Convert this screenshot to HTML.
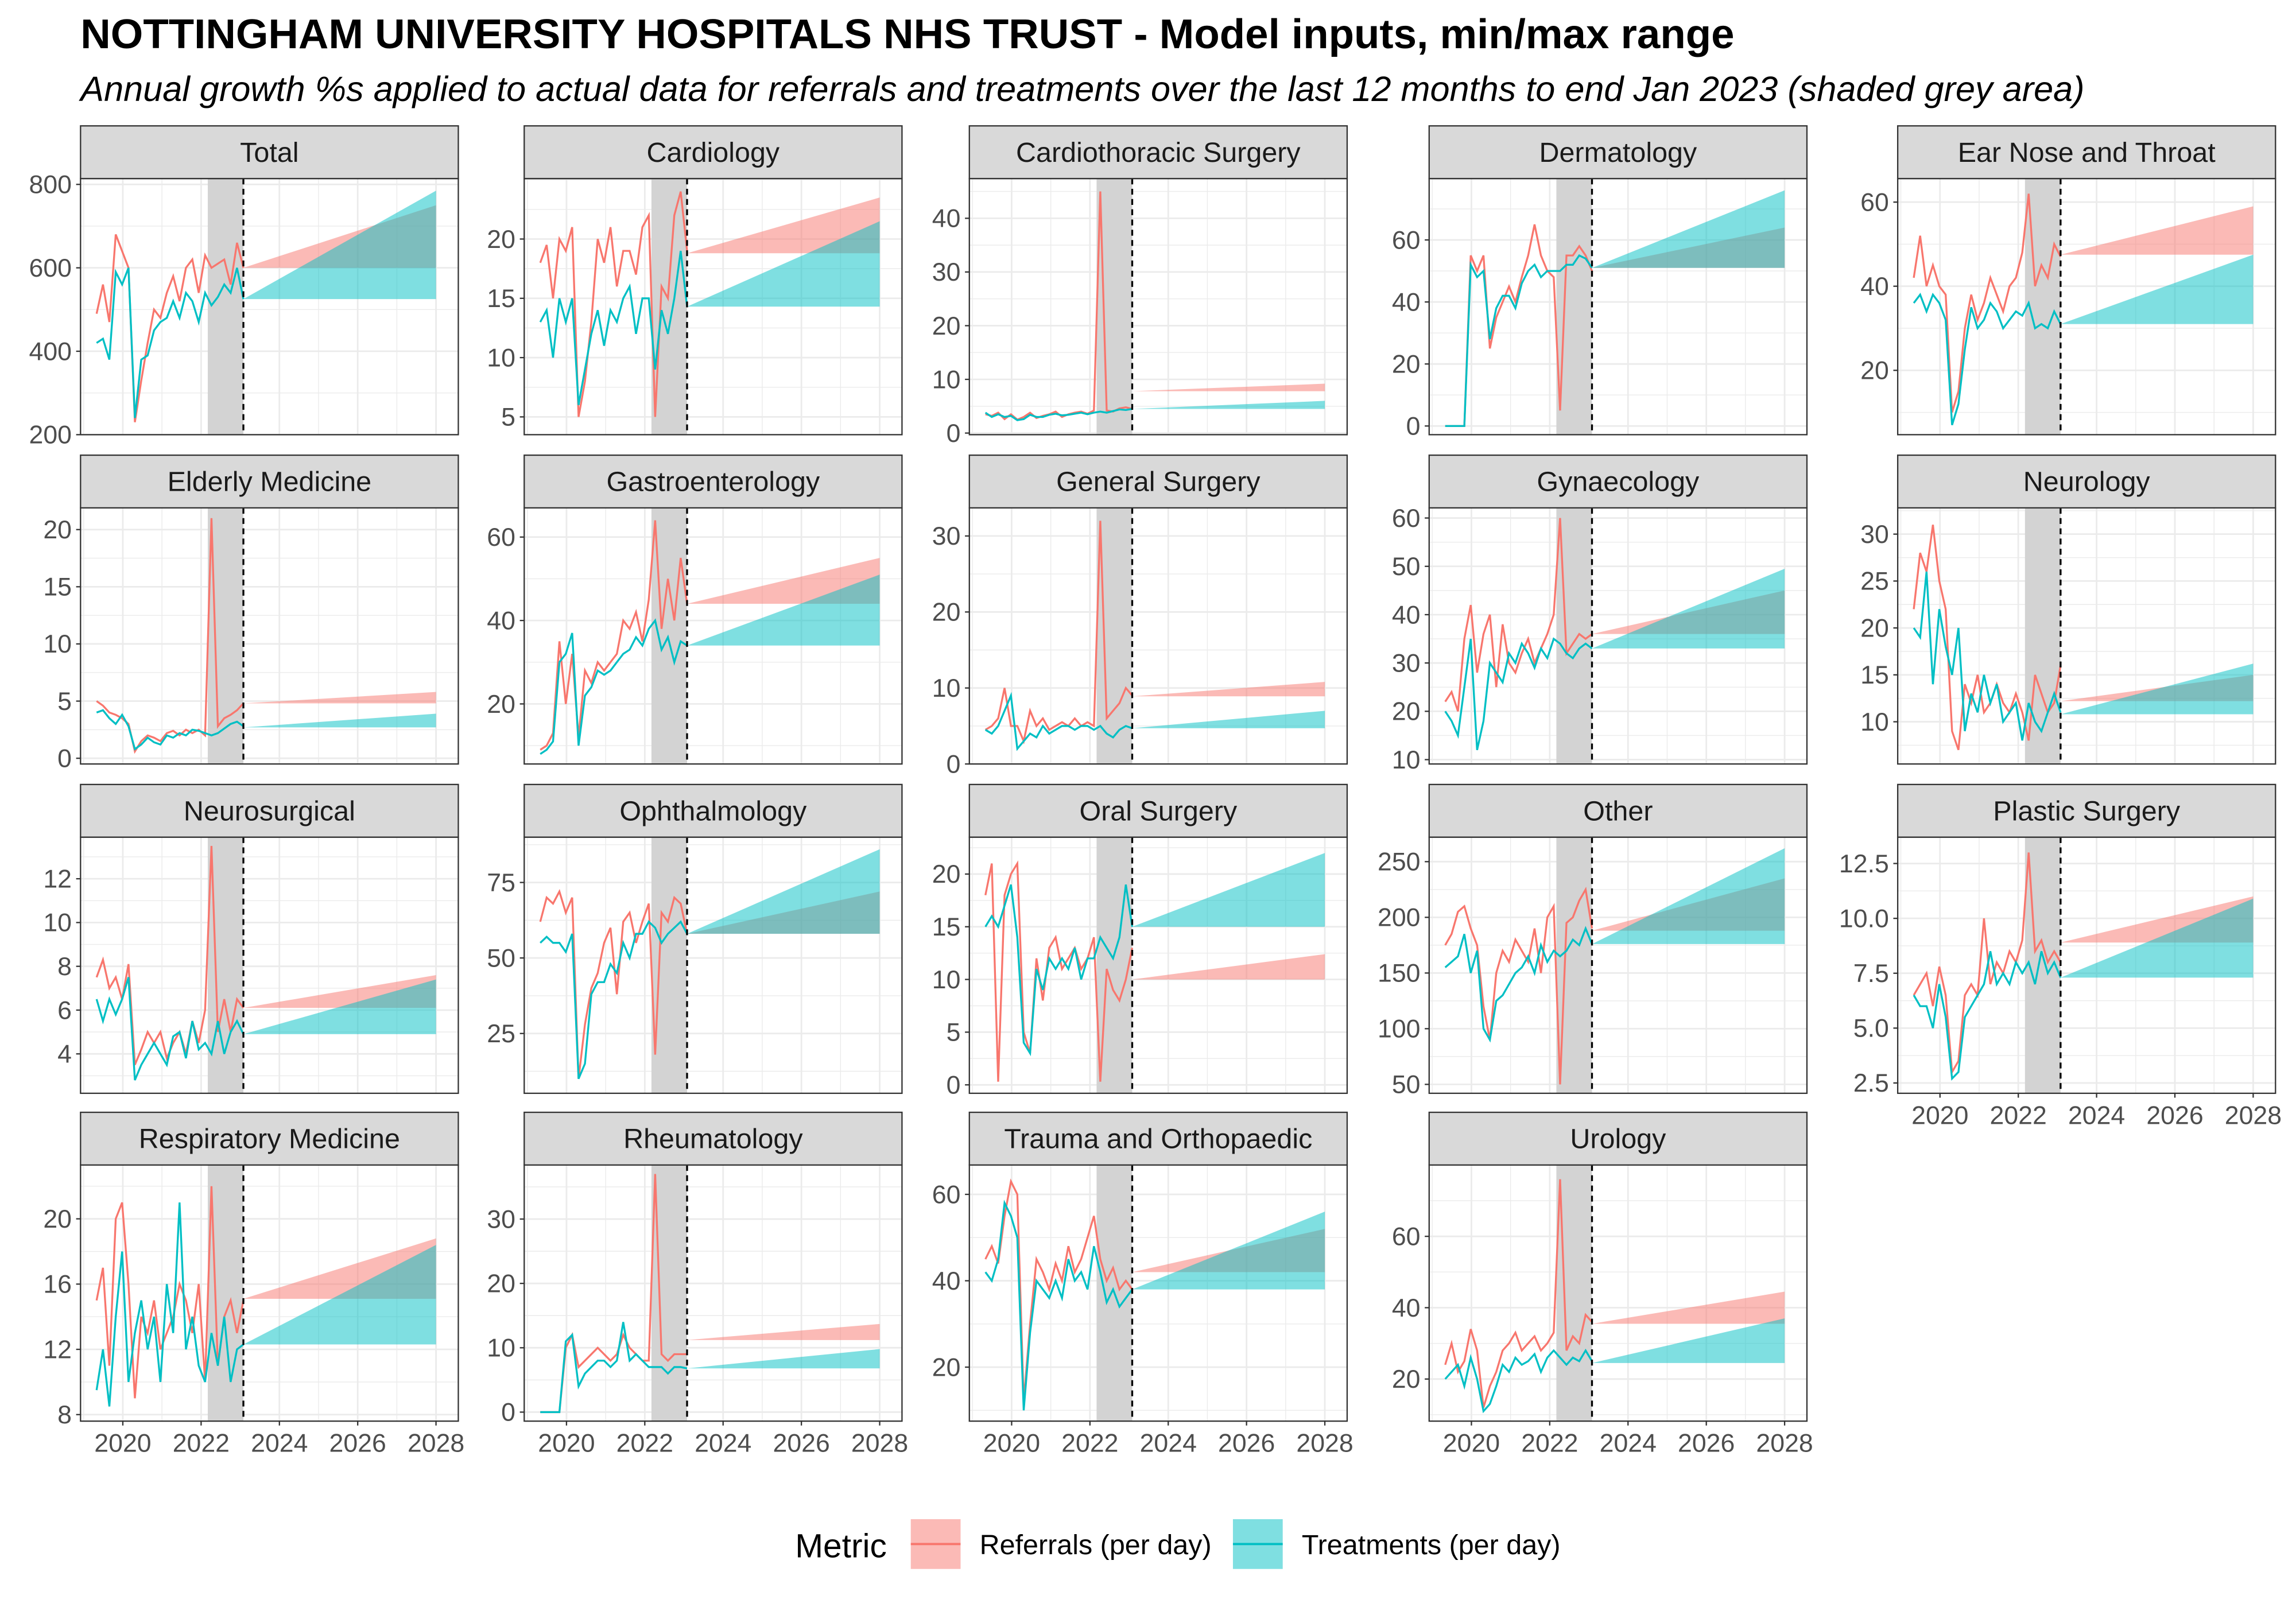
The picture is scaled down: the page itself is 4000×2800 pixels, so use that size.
<!DOCTYPE html>
<html><head><meta charset="utf-8">
<style>
html,body{margin:0;padding:0;background:#fff;}
svg{display:block;font-family:"Liberation Sans",sans-serif;}
</style></head>
<body>
<svg id="chart" xmlns="http://www.w3.org/2000/svg" width="4000" height="2800" viewBox="0 0 1568 1098" preserveAspectRatio="none">
<rect x="0" y="0" width="1568" height="1098" fill="#fff"/>
<text x="55" y="33" font-size="28.5" font-weight="bold" fill="#000">NOTTINGHAM UNIVERSITY HOSPITALS NHS TRUST - Model inputs, min/max range</text>
<text x="55" y="69" font-size="24" font-style="italic" fill="#000">Annual growth %s applied to actual data for referrals and treatments over the last 12 months to end Jan 2023 (shaded grey area)</text>
<g id="panels"></g>
<g>
<text x="543" y="1064" font-size="23" fill="#000">Metric</text>
<g>
<rect x="622" y="1038" width="34" height="34" fill="#F8766D" fill-opacity="0.5"/>
<line x1="622" y1="1055" x2="656" y2="1055" stroke="#F8766D" stroke-width="1.5"/>
<text x="669" y="1062" font-size="19" fill="#000">Referrals (per day)</text>
</g>
<g>
<rect x="842" y="1038" width="34" height="34" fill="#00BFC4" fill-opacity="0.5"/>
<line x1="842" y1="1055" x2="876" y2="1055" stroke="#00BFC4" stroke-width="1.5"/>
<text x="889" y="1062" font-size="19" fill="#000">Treatments (per day)</text>
</g>
</g>
</svg>
<script>
const specialties = ["Total","Cardiology","Cardiothoracic Surgery","Dermatology","Ear Nose and Throat","Elderly Medicine","Gastroenterology","General Surgery","Gynaecology","Neurology","Neurosurgical","Ophthalmology","Oral Surgery","Other","Plastic Surgery","Respiratory Medicine","Rheumatology","Trauma and Orthopaedic","Urology"];
const yTicks = [[200,400,600,800],[5,10,15,20],[0,10,20,30,40],[0,20,40,60],[20,40,60],[0,5,10,15,20],[20,40,60],[0,10,20,30],[10,20,30,40,50,60],[10,15,20,25,30],[4,6,8,10,12],[25,50,75],[0,5,10,15,20],[50,100,150,200,250],[2.5,5.0,7.5,10.0,12.5],[8,12,16,20],[0,10,20,30],[20,40,60],[20,40,60]];
const yTickLabels = [["200","400","600","800"],["5","10","15","20"],["0","10","20","30","40"],["0","20","40","60"],["20","40","60"],["0","5","10","15","20"],["20","40","60"],["0","10","20","30"],["10","20","30","40","50","60"],["10","15","20","25","30"],["4","6","8","10","12"],["25","50","75"],["0","5","10","15","20"],["50","100","150","200","250"],["2.5","5.0","7.5","10.0","12.5"],["8","12","16","20"],["0","10","20","30"],["20","40","60"],["20","40","60"]];
const yMin = [200,3.5,-0.3,-2.8,4.7,-0.5,5.6,0,9.1,5.5,2.2,5.2,-0.8,42,2.03,7.6,-1.4,7.5,8.2];
const yMax = [814,25.1,47.4,79.8,65.6,21.9,67,33.7,62.1,32.8,13.9,90,23.5,272,13.7,23.3,38.4,66.8,80];
const referrals = [
[490,560,470,680,640,600,230,330,420,500,480,540,580,520,600,620,540,630,600,610,620,560,660,600],
[18,19.5,15,20,19,21,5,8,13,20,18,21,16,19,19,17,21,22,5,16,15,22,24,19],
[3.5,3.2,3.8,2.6,3.5,2.5,3.0,3.8,2.8,3.2,3.5,4.0,3.0,3.5,3.8,4.0,3.6,4.2,45,4.2,4.0,4.6,4.8,4.5],
[0,0,0,0,55,50,55,25,35,40,45,40,48,55,65,55,50,48,5,55,55,58,55,50],
[42,52,40,45,40,38,10,15,30,38,32,36,42,38,34,40,42,48,62,40,45,42,50,47],
[5.0,4.6,4.0,3.8,3.5,3.0,0.6,1.5,2.0,1.8,1.5,2.2,2.4,2.0,2.5,2.2,2.5,2.0,21,2.8,3.5,3.8,4.2,4.8],
[9,10,13,35,20,32,12,28,25,30,28,30,32,40,38,42,35,45,64,38,50,40,55,44],
[4.5,5,6,10,5,5,3,7,5,6,4.5,5,5.5,5,6,5,5.5,5,32,6,7,8,10,9],
[22,24,20,35,42,28,36,40,25,38,30,28,32,35,30,33,36,40,60,32,34,36,35,36],
[22,28,26,31,25,22,9,7,14,12,15,11,12,14,12,11,13,11,8,15,13,11,12,16],
[7.5,8.3,7,7.5,6.5,8.1,3.5,4.2,5.0,4.5,5.0,3.8,4.5,5.0,4.0,5.5,4.5,6.0,13.5,5.0,6.5,5.0,6.5,6.1],
[62,70,68,72,65,70,10,28,40,45,55,60,38,62,65,55,62,68,18,65,62,70,68,58],
[18,21,0.3,18,20,21,5,3,12,8,13,14,11,12,13,11,12,14,0.3,11,9,8,10,13],
[175,185,205,210,190,175,120,90,150,170,160,180,170,160,190,150,200,210,50,195,200,215,225,190],
[6.5,7.0,7.5,6.0,7.8,6.5,3.0,3.5,6.5,7.0,6.5,10,7.0,8,7.5,8.5,8,9,13,8.5,9,8,8.5,8.0],
[15,17,11,20,21,16,9,14,13,15,12,13,14,16,15,13,16,10,22,11,14,15,13,15],
[0,0,0,0,10,12,7,8,9,10,9,8,9,12,10,9,8,8,37,9,8,9,9,9],
[45,48,44,55,63,60,12,30,45,42,38,44,40,48,42,45,50,55,45,40,43,38,40,38],
[24,30,22,25,34,28,12,18,22,28,30,33,28,30,32,28,30,33,76,28,32,30,38,36]];
const treatments = [
[420,430,380,590,560,600,240,380,390,450,470,480,520,480,540,520,470,540,510,530,560,540,600,525],
[13,14,10,15,13,15,6,9,12,14,11,14,13,15,16,12,15,15,9,14,12,15,19,14.3],
[3.8,3.0,3.5,3.0,3.2,2.4,2.6,3.4,3.0,3.0,3.4,3.6,3.3,3.4,3.6,3.8,3.5,3.8,4.0,3.8,4.1,4.4,4.3,4.5],
[0,0,0,0,52,48,50,28,38,42,42,38,46,50,52,48,50,50,50,52,52,55,54,51],
[36,38,34,38,36,32,7,12,25,35,30,32,36,34,30,32,34,33,36,30,31,30,34,31],
[4.0,4.2,3.5,3.0,3.8,2.8,0.8,1.2,1.8,1.4,1.2,2.0,1.8,2.2,2.0,2.5,2.4,2.2,2.0,2.2,2.6,3.0,3.2,2.8],
[8,9,11,30,32,37,10,22,24,28,27,28,30,32,33,36,34,38,40,33,36,30,35,34],
[4.5,4,5,7,9,2,3,4,3.5,5,4,4.5,5,5,4.5,5,5,4.5,5,4,3.5,4.5,5,4.7],
[20,18,15,25,35,12,18,30,28,26,32,30,34,32,29,33,31,35,34,32,31,33,34,33],
[20,19,26,14,22,18,15,20,9,13,11,15,12,14,10,11,12,8,12,10,9,11,13,11],
[6.5,5.5,6.5,5.8,6.5,7.5,2.8,3.5,4.0,4.5,4.0,3.5,4.8,5.0,3.8,5.5,4.2,4.5,4.0,5.5,4.0,5.0,5.5,4.9],
[55,57,55,55,52,58,10,15,38,42,42,48,45,55,50,58,58,62,60,55,58,60,62,58],
[15,16,15,17,19,14,4,3,11,9,12,11,12,11,13,10,12,12,14,13,12,14,19,15],
[155,160,165,185,150,170,100,90,125,130,140,150,155,165,150,175,160,170,165,170,180,175,190,176],
[6.5,6.0,6.0,5.0,7.0,5.5,2.7,3.0,5.5,6.0,6.5,7,8.5,7,7.5,7,8,7.5,8,7,8.5,7.5,8,7.3],
[9.5,12,8.5,14,18,10,13,15,12,14,10,16,13,21,12,14,11,10,13,11,14,10,12,12.3],
[0,0,0,0,11,12,4,6,7,8,8,7,8,14,8,9,8,7,7,7,6,7,7,6.8],
[42,40,45,58,55,50,10,28,40,38,36,40,36,45,40,42,38,48,42,35,38,34,36,38],
[20,22,24,18,26,20,11,13,18,24,22,26,24,25,27,22,26,28,26,24,26,25,28,25]];
const refProjStart = [600,18.8,7.8,51,47.5,4.8,44,8.9,36,12.2,6.1,58,10,188,8.9,15.1,11.2,42,35.5];
const refProjEnd = [750,23.5,9.2,64,59,5.8,55,10.8,45,15,7.6,72,12.4,235,11.0,18.8,13.7,52,44.5];
const trtProjStart = [525,14.3,4.5,51,31,2.7,34,4.7,33,10.8,4.9,58,15,176,7.3,12.3,6.8,38,24.5];
const trtProjEnd = [785,21.5,6.0,76,47.5,3.9,51,7.0,49.5,16.2,7.4,86,22,262,10.9,18.4,9.8,56,37];
const xTicks = [2020,2022,2024,2026,2028];
const xTickLabels = ["2020","2022","2024","2026","2028"];
const histStart = 2019.33, histEnd = 2023.08, projEnd = 2028.0;
const shadeStart = 2022.17, cutoff = 2023.08;

const NS = "http://www.w3.org/2000/svg";
const colX = [55,358,662,976,1296], rowY = [122,347,572,796];
const PW = 258, PH = 175, SH = 36, XMIN = 2018.92, XMAX = 2028.57;
const root = document.getElementById('panels');
function mk(tag, attrs, parent){ const e=document.createElementNS(NS,tag); for(const k in attrs) e.setAttribute(k,attrs[k]); parent.appendChild(e); return e; }

specialties.forEach((name, i) => {
  const c = i % 5, r = Math.floor(i / 5);
  const x0 = colX[c], y0 = rowY[r];
  const xs = v => x0 + (v - XMIN) / (XMAX - XMIN) * PW;
  const ys = v => y0 + PH - (v - yMin[i]) / (yMax[i] - yMin[i]) * PH;
  const g = mk('g', {}, root);
  
  
  mk('rect', {x:x0, y:y0, width:PW, height:PH, fill:'#fff'}, g);
  for (let yr = 2019; yr <= 2028; yr++) {
    const major = yr % 2 === 0;
    mk('line', {x1:xs(yr), x2:xs(yr), y1:y0, y2:y0+PH, stroke:'#ebebeb', 'stroke-width': major?1.1:0.55}, g);
  }
  const tk = yTicks[i];
  const step = tk[1]-tk[0];
  for (let v = tk[0]-step/2; v <= yMax[i]; v += step/2) {
    if (v < yMin[i]) continue;
    const major = tk.some(t => Math.abs(t - v) < 1e-6);
    mk('line', {x1:x0, x2:x0+PW, y1:ys(v), y2:ys(v), stroke:'#ebebeb', 'stroke-width': major?1.1:0.55}, g);
  }
  const sh = mk('rect', {x:xs(shadeStart), y:y0, width:xs(cutoff)-xs(shadeStart), height:PH, fill:'#d3d3d3'}, g);
  
  
  const rp = mk('polygon', {points:[xs(cutoff),ys(refProjStart[i]), xs(projEnd),ys(refProjEnd[i]), xs(projEnd),ys(refProjStart[i])].join(','), fill:'#F8766D', 'fill-opacity':0.5}, g);
  
  
  const tp = mk('polygon', {points:[xs(cutoff),ys(trtProjStart[i]), xs(projEnd),ys(trtProjEnd[i]), xs(projEnd),ys(trtProjStart[i])].join(','), fill:'#00BFC4', 'fill-opacity':0.5}, g);
  
  
  const n = referrals[i].length;
  const px = k => xs(histStart + k * (histEnd - histStart) / (n - 1));
  const rl = mk('polyline', {points: referrals[i].map((v,k)=>px(k)+','+ys(v)).join(' '), fill:'none', stroke:'#F8766D', 'stroke-width':1.3}, g);
  
  
  const tl = mk('polyline', {points: treatments[i].map((v,k)=>px(k)+','+ys(v)).join(' '), fill:'none', stroke:'#00BFC4', 'stroke-width':1.3}, g);
  
  
  const dl = mk('line', {x1:xs(cutoff), x2:xs(cutoff), y1:y0, y2:y0+PH, stroke:'#000', 'stroke-width':1.3, 'stroke-dasharray':'4,3'}, g);
  
  
  mk('rect', {x:x0, y:y0, width:PW, height:PH, fill:'none', stroke:'#333', 'stroke-width':0.9}, g);
  const st = mk('rect', {x:x0, y:y0-SH, width:PW, height:SH, fill:'#d9d9d9', stroke:'#333', 'stroke-width':0.9}, g);
  
  
  const stt = mk('text', {x:x0+PW/2, y:y0-SH/2+6.5, 'font-size':19, fill:'#1a1a1a', 'text-anchor':'middle'}, g);
  stt.textContent = name;
  
  
  tk.forEach((v, k) => {
    mk('line', {x1:x0-3, x2:x0, y1:ys(v), y2:ys(v), stroke:'#333', 'stroke-width':0.9}, g);
    const t = mk('text', {x:x0-6, y:ys(v)+6, 'font-size':17.5, fill:'#4d4d4d', 'text-anchor':'end'}, g);
    t.textContent = yTickLabels[i][k];
    
    
  });
  const bottom = (c < 4 && r === 3) || (c === 4 && r === 2);
  if (bottom) {
    xTicks.forEach((v, k) => {
      mk('line', {x1:xs(v), x2:xs(v), y1:y0+PH, y2:y0+PH+3, stroke:'#333', 'stroke-width':0.9}, g);
      const t = mk('text', {x:xs(v), y:y0+PH+21, 'font-size':17.5, fill:'#4d4d4d', 'text-anchor':'middle'}, g);
      t.textContent = xTickLabels[k];
      
      
    });
  }
});
</script>
</body></html>
